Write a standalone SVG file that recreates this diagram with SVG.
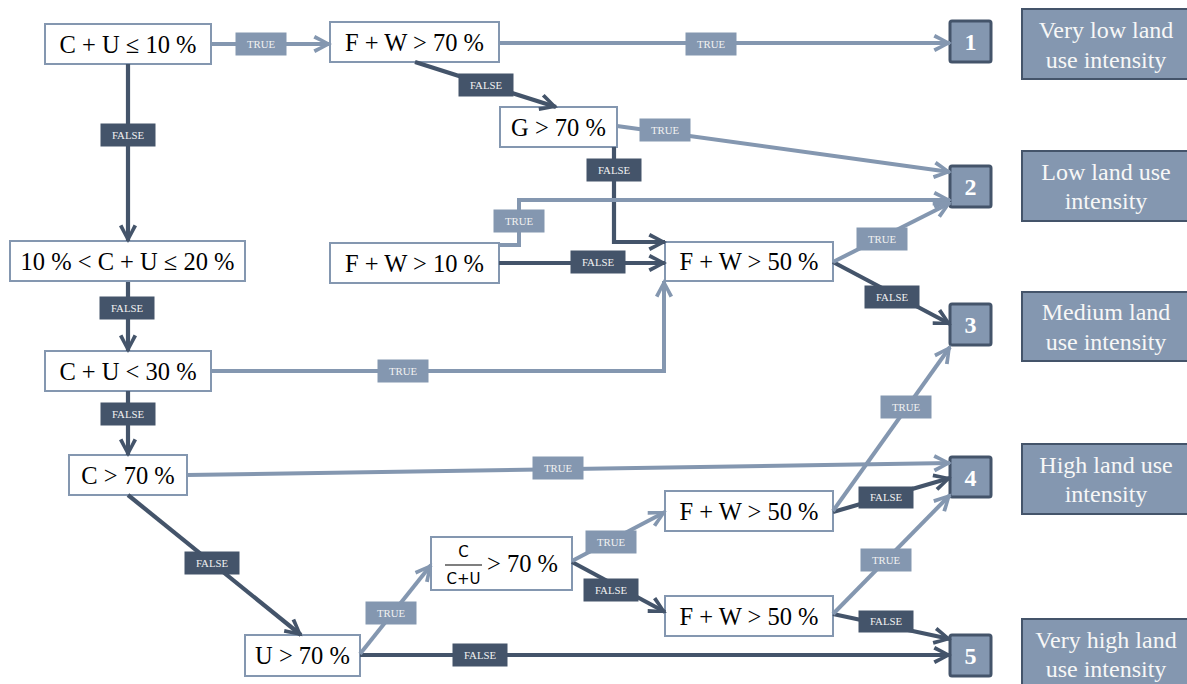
<svg xmlns="http://www.w3.org/2000/svg" width="1187" height="684" viewBox="0 0 1187 684">
<defs>
<style>
.node rect{fill:#fff;stroke:#8497b0;stroke-width:2}
.node text{font-family:"Liberation Serif","Times New Roman",serif;font-size:24.5px;fill:#000;text-anchor:middle}
.num rect{fill:#8497b0;stroke:#44546a;stroke-width:3}
.num text{font-family:"Liberation Serif","Times New Roman",serif;font-size:24px;font-weight:bold;fill:#fff;text-anchor:middle}
.leg rect{fill:#8497b0;stroke:#44546a;stroke-width:2}
.leg text{font-family:"Liberation Serif","Times New Roman",serif;font-size:24px;fill:#f7f7f7;text-anchor:middle}
.t{stroke:#8497b0;stroke-width:4;fill:none;marker-end:url(#at)}
.f{stroke:#44546a;stroke-width:4.2;fill:none;marker-end:url(#af)}
.lt{fill:#8497b0}
.lf{fill:#44546a}
.lbl{font-family:"Liberation Serif","Times New Roman",serif;font-size:10.8px;fill:#f2f2f2;text-anchor:middle}
</style>
<marker id="at" markerUnits="userSpaceOnUse" viewBox="0 0 20 20" markerWidth="20" markerHeight="20" refX="17" refY="10" orient="auto">
<path d="M19,10 L2.2,1 L0.4,4.4 L12,10 L0.4,15.6 L2.2,19 Z" fill="#8497b0"/>
</marker>
<marker id="af" markerUnits="userSpaceOnUse" viewBox="0 0 20 20" markerWidth="20" markerHeight="20" refX="17" refY="10" orient="auto">
<path d="M19,10 L2.2,1 L0.4,4.4 L12,10 L0.4,15.6 L2.2,19 Z" fill="#44546a"/>
</marker>
</defs>
<rect width="1187" height="684" fill="#fff"/>

<g id="n1" class="node"><rect x="45" y="24" width="166" height="40"/><text x="128" y="52.5">C + U ≤ 10 %</text></g>
<g id="n2" class="node"><rect x="330" y="22" width="169" height="40"/><text x="414.5" y="50.5">F + W &gt; 70 %</text></g>
<g id="n3" class="node"><rect x="500" y="107" width="117" height="40"/><text x="558.5" y="135.5">G &gt; 70 %</text></g>
<g id="n4" class="node"><rect x="10" y="241" width="235" height="40"/><text x="127.5" y="269.5">10 % &lt; C + U ≤ 20 %</text></g>
<g id="n5" class="node"><rect x="330" y="243" width="169" height="40"/><text x="414.5" y="271.5">F + W &gt; 10 %</text></g>
<g id="n6" class="node"><rect x="665" y="242" width="168" height="39"/><text x="749" y="270">F + W &gt; 50 %</text></g>
<g id="n7" class="node"><rect x="45" y="351" width="166" height="40"/><text x="128" y="379.5">C + U &lt; 30 %</text></g>
<g id="n8" class="node"><rect x="69" y="455" width="118" height="40"/><text x="128" y="483.5">C &gt; 70 %</text></g>
<g id="n9" class="node"><rect x="245" y="635" width="115" height="41"/><text x="302.5" y="664">U &gt; 70 %</text></g>
<g id="n10" class="node"><rect x="431" y="537" width="141" height="53"/>
<text x="463.5" y="557" style="font-family:'DejaVu Sans',sans-serif;font-size:15px">C</text>
<line x1="445" y1="565" x2="482" y2="565" stroke="#000" stroke-width="1.2"/>
<text x="463.5" y="584" style="font-family:'DejaVu Sans',sans-serif;font-size:15px">C+U</text>
<text x="487" y="572" style="text-anchor:start">&gt; 70 %</text></g>
<g id="n11" class="node"><rect x="665" y="491" width="168" height="40"/><text x="749" y="519.5">F + W &gt; 50 %</text></g>
<g id="n12" class="node"><rect x="665" y="596" width="168" height="40"/><text x="749" y="624.5">F + W &gt; 50 %</text></g>

<g id="r1" class="num"><rect x="950" y="21" width="41" height="41" rx="2"/><text x="970.5" y="49.5">1</text></g>
<g id="r2" class="num"><rect x="950" y="166" width="41" height="41" rx="2"/><text x="970.5" y="194.5">2</text></g>
<g id="r3" class="num"><rect x="950" y="304" width="41" height="41" rx="2"/><text x="970.5" y="332.5">3</text></g>
<g id="r4" class="num"><rect x="950" y="457" width="41" height="40" rx="2"/><text x="970.5" y="485.5">4</text></g>
<g id="r5" class="num"><rect x="950" y="635" width="41" height="41" rx="2"/><text x="970.5" y="663.5">5</text></g>

<g id="l1" class="leg"><rect x="1022" y="9" width="170" height="70"/><text x="1106" y="38">Very low land</text><text x="1106" y="67.5">use intensity</text></g>
<g id="l2" class="leg"><rect x="1022" y="151" width="170" height="70"/><text x="1106" y="180">Low land use</text><text x="1106" y="209">intensity</text></g>
<g id="l3" class="leg"><rect x="1022" y="292" width="170" height="69"/><text x="1106" y="320">Medium land</text><text x="1106" y="350">use intensity</text></g>
<g id="l4" class="leg"><rect x="1022" y="444" width="170" height="70"/><text x="1106" y="472.5">High land use</text><text x="1106" y="502">intensity</text></g>
<g id="l5" class="leg"><rect x="1022" y="619" width="170" height="72"/><text x="1106" y="648">Very high land</text><text x="1106" y="677">use intensity</text></g>

<g id="connectors">
<path class="f" d="M128,64 V241"/>
<path class="f" d="M128,282 V351"/>
<path class="f" d="M128,391 V455"/>
<path class="f" d="M128,495 L301,635"/>
<path class="f" d="M415,62 L556,107"/>
<path class="f" d="M614,147 V242 H665"/>
<path class="f" d="M499,263 H665"/>
<path class="f" d="M833,262 L950,324"/>
<path class="f" d="M572,562 L665,612"/>
<path class="f" d="M833,512 L950,478"/>
<path class="f" d="M833,614 L950,639"/>
<path class="f" d="M360,655 H950"/>

<path class="t" d="M211,44 H330"/>
<path class="t" d="M499,43 H950"/>
<path class="t" d="M617,126 L950,172"/>
<path class="t" d="M499,245 H519 V200 H950"/>
<path class="t" d="M833,262 L950,203"/>
<path class="t" d="M211,371 H664 V281"/>
<path class="t" d="M187,475 L950,463"/>
<path class="t" d="M360,654 L431,565"/>
<path class="t" d="M572,561 L665,512"/>
<path class="t" d="M833,511 L950,347"/>
<path class="t" d="M833,614 L950,495"/>

<g id="labels">
<rect class="lt" x="235.5" y="32.5" width="51" height="23"/><text class="lbl" x="261" y="47.5">TRUE</text>
<rect class="lt" x="685.5" y="32.5" width="51" height="23"/><text class="lbl" x="711" y="47.5">TRUE</text>
<rect class="lt" x="639.5" y="118.5" width="51" height="23"/><text class="lbl" x="665" y="133.5">TRUE</text>
<rect class="lt" x="493.5" y="209.5" width="51" height="23"/><text class="lbl" x="519" y="224.5">TRUE</text>
<rect class="lt" x="856.5" y="227.5" width="51" height="23"/><text class="lbl" x="882" y="242.5">TRUE</text>
<rect class="lt" x="377.5" y="359.5" width="51" height="23"/><text class="lbl" x="403" y="374.5">TRUE</text>
<rect class="lt" x="532.5" y="456.5" width="51" height="23"/><text class="lbl" x="558" y="471.5">TRUE</text>
<rect class="lt" x="365.5" y="601.5" width="51" height="23"/><text class="lbl" x="391" y="616.5">TRUE</text>
<rect class="lt" x="585.5" y="530.5" width="51" height="23"/><text class="lbl" x="611" y="545.5">TRUE</text>
<rect class="lt" x="880.5" y="395.5" width="51" height="23"/><text class="lbl" x="906" y="410.5">TRUE</text>
<rect class="lt" x="860.5" y="548.5" width="51" height="23"/><text class="lbl" x="886" y="563.5">TRUE</text>

<rect class="lf" x="100.5" y="123.5" width="55" height="23"/><text class="lbl" x="128" y="138.5">FALSE</text>
<rect class="lf" x="99.5" y="296.5" width="55" height="23"/><text class="lbl" x="127" y="311.5">FALSE</text>
<rect class="lf" x="100.5" y="402.5" width="55" height="23"/><text class="lbl" x="128" y="417.5">FALSE</text>
<rect class="lf" x="184.5" y="551.5" width="55" height="23"/><text class="lbl" x="212" y="566.5">FALSE</text>
<rect class="lf" x="458.5" y="73.5" width="55" height="23"/><text class="lbl" x="486" y="88.5">FALSE</text>
<rect class="lf" x="586.5" y="158.5" width="55" height="23"/><text class="lbl" x="614" y="173.5">FALSE</text>
<rect class="lf" x="570.5" y="250.5" width="55" height="23"/><text class="lbl" x="598" y="265.5">FALSE</text>
<rect class="lf" x="864.5" y="285.5" width="55" height="23"/><text class="lbl" x="892" y="300.5">FALSE</text>
<rect class="lf" x="583.5" y="578.5" width="55" height="23"/><text class="lbl" x="611" y="593.5">FALSE</text>
<rect class="lf" x="858.5" y="486.5" width="55" height="22"/><text class="lbl" x="886" y="501">FALSE</text>
<rect class="lf" x="858.5" y="610.5" width="55" height="22"/><text class="lbl" x="886" y="625">FALSE</text>
<rect class="lf" x="452.5" y="643.5" width="55" height="23"/><text class="lbl" x="480" y="658.5">FALSE</text>
</g>
</g>
</svg>
